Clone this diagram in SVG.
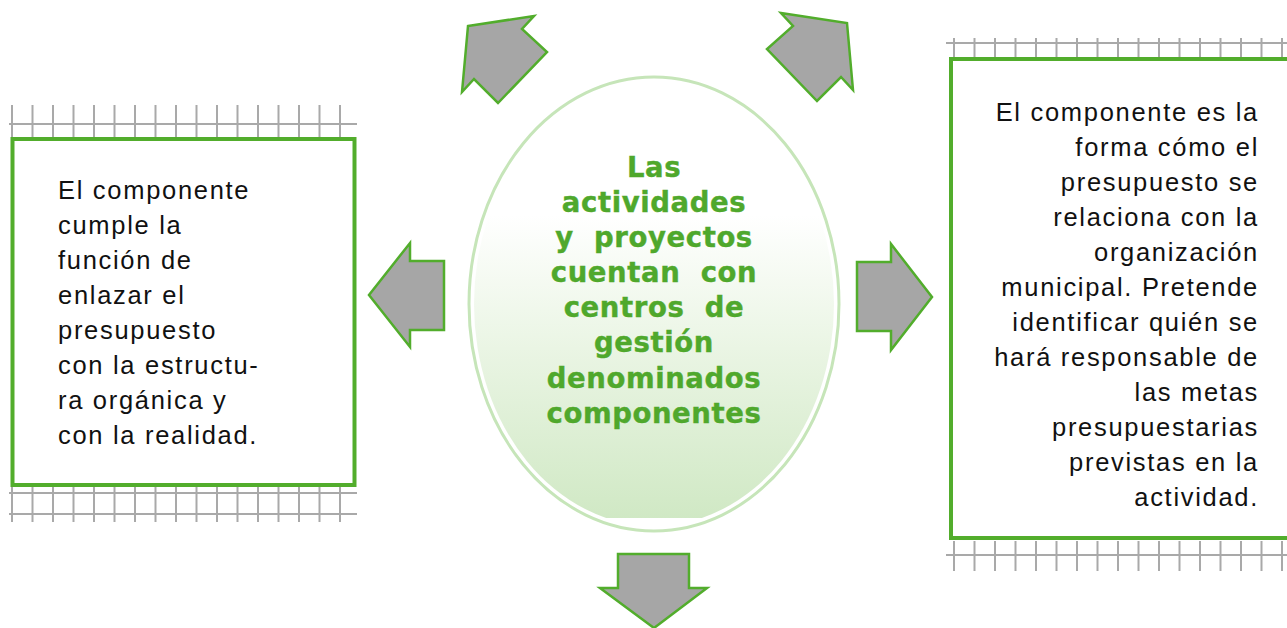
<svg xmlns="http://www.w3.org/2000/svg" width="1287" height="628" viewBox="0 0 1287 628">
<style>
.grid{stroke:#a9a9a9;stroke-width:2;fill:none}
.box{fill:#ffffff;stroke:#52ad2c;stroke-width:4}
.arrow{fill:#a6a6a6;stroke:#52ad2c;stroke-width:2.5;stroke-linejoin:miter}
.body{font-family:"Liberation Sans",Arial,sans-serif;font-size:25.5px;letter-spacing:1.7px;fill:#111111}
.center{font-family:"DejaVu Sans",Verdana,sans-serif;font-weight:bold;font-size:27.5px;letter-spacing:0.6px;fill:#4fa82c;stroke:#4fa82c;stroke-width:0.4;text-anchor:middle}
</style>
<defs>
<linearGradient id="eg" x1="0" y1="0" x2="0" y2="1">
<stop offset="0" stop-color="#ffffff"/>
<stop offset="0.3" stop-color="#ffffff"/>
<stop offset="0.6" stop-color="#eaf5e4"/>
<stop offset="1" stop-color="#cfe8c3"/>
</linearGradient>
<clipPath id="ec"><rect x="460" y="60" width="390" height="458"/></clipPath>
</defs>

<g id="left-node">
<path class="grid" d="M9 124H357 M12 105V137 M32.5 105V137 M53 105V137 M73.5 105V137 M94 105V137 M114.5 105V137 M135 105V137 M155.5 105V137 M176 105V137 M196.5 105V137 M217 105V137 M237.5 105V137 M258 105V137 M278.5 105V137 M299 105V137 M319.5 105V137 M340 105V137"/>
<path class="grid" d="M9 493H357 M9 514H357 M12 487V522 M32.5 487V522 M53 487V522 M73.5 487V522 M94 487V522 M114.5 487V522 M135 487V522 M155.5 487V522 M176 487V522 M196.5 487V522 M217 487V522 M237.5 487V522 M258 487V522 M278.5 487V522 M299 487V522 M319.5 487V522 M340 487V522"/>
<rect class="box" x="12.5" y="139" width="342" height="346"/>
<text class="body" x="58" y="199">El componente</text>
<text class="body" x="58" y="234">cumple la</text>
<text class="body" x="58" y="269">función de</text>
<text class="body" x="58" y="304">enlazar el</text>
<text class="body" x="58" y="339">presupuesto</text>
<text class="body" x="58" y="374">con la estructu-</text>
<text class="body" x="58" y="409">ra orgánica y</text>
<text class="body" x="58" y="444">con la realidad.</text>
</g>

<g id="right-node">
<path class="grid" d="M946 43H1287 M954 38V57 M974.5 38V57 M995 38V57 M1015.5 38V57 M1036 38V57 M1056.5 38V57 M1077 38V57 M1097.5 38V57 M1118 38V57 M1138.5 38V57 M1159 38V57 M1179.5 38V57 M1200 38V57 M1220.5 38V57 M1241 38V57 M1261.5 38V57 M1282 38V57"/>
<path class="grid" d="M946 555H1287 M954 541V571 M974.5 541V571 M995 541V571 M1015.5 541V571 M1036 541V571 M1056.5 541V571 M1077 541V571 M1097.5 541V571 M1118 541V571 M1138.5 541V571 M1159 541V571 M1179.5 541V571 M1200 541V571 M1220.5 541V571 M1241 541V571 M1261.5 541V571 M1282 541V571"/>
<rect class="box" x="951" y="59" width="345" height="479"/>
<g text-anchor="end">
<text class="body" x="1259" y="121">El componente es la</text>
<text class="body" x="1259" y="156">forma cómo el</text>
<text class="body" x="1259" y="191">presupuesto se</text>
<text class="body" x="1259" y="226">relaciona con la</text>
<text class="body" x="1259" y="261">organización</text>
<text class="body" x="1259" y="296">municipal. Pretende</text>
<text class="body" x="1259" y="331">identificar quién se</text>
<text class="body" x="1259" y="366">hará responsable de</text>
<text class="body" x="1259" y="401">las metas</text>
<text class="body" x="1259" y="436">presupuestarias</text>
<text class="body" x="1259" y="471">previstas en la</text>
<text class="body" x="1259" y="506">actividad.</text>
</g>
</g>

<g id="center-node">
<ellipse cx="654" cy="304" rx="185" ry="227" fill="#ffffff" stroke="#c6e5b9" stroke-width="3"/>
<ellipse cx="654" cy="304" rx="180" ry="222" fill="url(#eg)" clip-path="url(#ec)"/>
<text class="center" x="654" y="177">Las</text>
<text class="center" x="654" y="212">actividades</text>
<text class="center" x="654" y="247" xml:space="preserve">y  proyectos</text>
<text class="center" x="654" y="282" xml:space="preserve">cuentan  con</text>
<text class="center" x="654" y="317" xml:space="preserve">centros  de</text>
<text class="center" x="654" y="352">gestión</text>
<text class="center" x="654" y="388">denominados</text>
<text class="center" x="654" y="423">componentes</text>
</g>

<g id="connectors">
<polygon class="arrow" points="468,26 534,16 522,29 547,52 498,103 474,79 462,92"/>
<polygon class="arrow" points="781,13 847,23 853,90 841,77 817,101 767,49 793,26"/>
<polygon class="arrow" points="410,243 410,261 444,261 444,330 410,330 410,347 369,295"/>
<polygon class="arrow" points="891,244 891,262 857,262 857,331 891,331 891,350 932,297"/>
<polygon class="arrow" points="618,554 689,554 689,588 707,588 654,628 600,588 618,588"/>
</g>
</svg>
